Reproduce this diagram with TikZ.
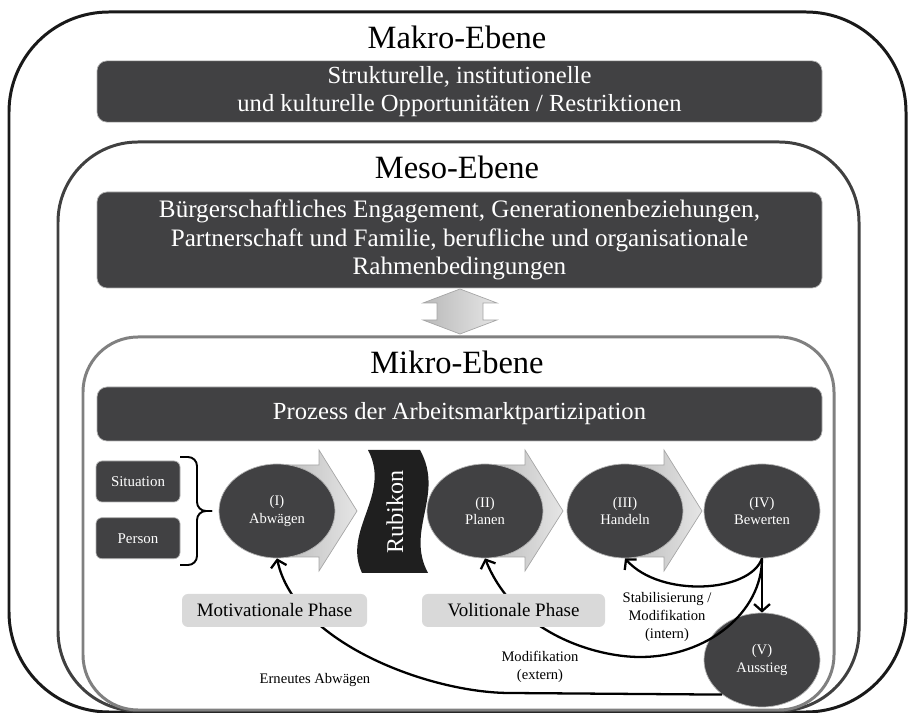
\documentclass[tikz,border=0pt]{standalone}
\usepackage{fontspec}
\setmainfont{Liberation Serif}
\usetikzlibrary{positioning, shapes.geometric, arrows.meta}
\definecolor{boxgray}{RGB}{65,65,67}
\definecolor{phasegray}{RGB}{217,217,217}

\begin{document}
\begin{tikzpicture}[
  lvl/.style={line width=1.7pt},
  ttl/.style={font=\fontsize{18.5}{22}\selectfont},
  darkbox/.style={draw=gray!60, line width=0.4pt, fill=boxgray, rounded corners=0.20cm, text=white, align=center, minimum width=14.50cm},
  factor/.style={draw=gray!60, line width=0.4pt, fill=boxgray, rounded corners=0.12cm, text=white, minimum width=1.68cm, minimum height=0.82cm, font=\fontsize{8.5}{10}\selectfont},
  stage/.style={draw=gray!60, line width=0.4pt, fill=boxgray, ellipse, inner sep=0pt, minimum width=2.32cm, minimum height=1.88cm, text=white, align=center, font=\fontsize{8.3}{10}\selectfont},
  phasebox/.style={fill=phasegray, rounded corners=0.12cm, minimum height=0.66cm, font=\fontsize{10.8}{13}\selectfont},
  blockarr/.style={draw=gray!70, line width=0.4pt, left color=gray!55, right color=gray!20},
  conn/.style={line width=1.3pt, -{Straight Barb[length=4pt, width=9pt]}},
  note/.style={align=center, font=\fontsize{8.3}{10.2}\selectfont}
]
\useasboundingbox (0,0) rectangle (18.18,14.26);

% Levels
\draw [lvl, draw=black!90, rounded corners=2.00cm] ( 0.18, 0.02) rectangle (18.12, 14.02);
\draw [lvl, draw=black!75, rounded corners=1.60cm] ( 1.16, 0.04) rectangle (17.18, 11.42);
\draw [lvl, draw=black!50, rounded corners=1.10cm] ( 1.66, 0.06) rectangle (16.68,  7.52);

% Makro level
\node (mak) [ttl] at ( 9.14, 13.52) {Makro-Ebene};
\node (makbox) [darkbox, minimum height=1.14cm, font=\fontsize{14}{15.5}\selectfont] at ( 9.19, 12.43) {Strukturelle, institutionelle\\und kulturelle Opportunitäten / Restriktionen};

% Meso level
\node (mes) [ttl] at ( 9.14, 10.92) {Meso-Ebene};
\node (mesbox) [darkbox, minimum height=1.92cm, font=\fontsize{14.3}{16.2}\selectfont] at ( 9.19, 9.46) {Bürgerschaftliches Engagement, Generationenbeziehungen,\\Partnerschaft und Familie, berufliche und organisationale\\Rahmenbedingungen};

% Exchange meso / mikro
\draw [blockarr] ( 9.20, 8.48) -- ( 9.94, 8.20) -- ( 9.66, 8.20) -- ( 9.66, 7.86) -- ( 9.94, 7.86) -- ( 9.20, 7.58)
  -- ( 8.46, 7.86) -- ( 8.74, 7.86) -- ( 8.74, 8.20) -- ( 8.46, 8.20) -- cycle;

% Mikro level
\node (mik) [ttl] at ( 9.14, 7.02) {Mikro-Ebene};
\node (mikbox) [darkbox, minimum height=1.08cm, font=\fontsize{14}{16}\selectfont] at ( 9.19, 5.98) {Prozess der Arbeitsmarktpartizipation};

% Situation and person
\node (sit) [factor] at ( 2.76, 4.63) {Situation};
\node (pers) [factor, below = 0.30cm of sit] {Person};
\draw [line width=1.1pt, rounded corners=0.18cm] ( 3.60, 5.12) -- ( 3.94, 5.12) -- ( 3.94, 4.04) -- ( 4.24, 4.04);
\draw [line width=1.1pt, rounded corners=0.18cm] ( 3.60, 2.96) -- ( 3.94, 2.96) -- ( 3.94, 4.04) -- ( 4.24, 4.04);

% Block arrows behind the stages
\foreach \xa/\xt in {5.54/7.14, 9.70/11.26, 12.50/14.04}
  \draw [blockarr] (\xa, 4.96) -- ({\xt-0.76}, 4.96) -- ({\xt-0.76}, 5.26) -- (\xt, 4.04)
    -- ({\xt-0.76}, 2.84) -- ({\xt-0.76}, 3.12) -- (\xa, 3.12) -- cycle;

% Rubikon
\fill [black!88] ( 7.36, 5.26) .. controls ( 7.84, 4.36) and ( 6.84, 3.66) .. ( 7.24, 2.80) -- ( 8.56, 2.80)
  .. controls ( 8.10, 3.66) and ( 8.90, 4.36) .. ( 8.40, 5.26) -- cycle;
\node (rub) [rotate=90, text=white, font=\fontsize{13.7}{16}\selectfont] at ( 7.90, 4.02) {Rubikon};

% Stages
\node (s1) [stage] at ( 5.54, 4.04) {(I)\\Abwägen};
\node (s2) [stage] at ( 9.70, 4.04) {(II)\\Planen};
\node (s3) [stage] at (12.50, 4.04) {(III)\\Handeln};
\node (s4) [stage] at (15.24, 4.04) {(IV)\\Bewerten};
\node (s5) [stage] at (15.24, 1.06) {(V)\\Ausstieg};

% Connections
\draw [conn] (s4) -- (s5);
\draw [conn] (s4.south) .. controls (15.00, 2.40) and (13.20, 2.30) .. (s3.south);
\draw [conn] (s4.south) .. controls (15.24, 2.01) and (14.15, 1.12) .. (12.80, 1.12)
  .. controls (11.90, 1.12) and (10.30, 1.60) .. (s2.south);
\draw [conn] (s5.221) -- (10.20, 0.40) .. controls ( 8.60, 0.40) and ( 5.90, 1.40) .. (s1.south);

% Phases
\node (mot) [phasebox, minimum width=3.70cm] at ( 5.49, 2.05) {Motivationale Phase};
\node (vol) [phasebox, minimum width=3.66cm] at (10.27, 2.05) {Volitionale Phase};

% Connector labels
\node (stab) [note] at (13.34, 1.92) {Stabilisierung /\\Modifikation\\(intern)};
\node (ext)  [note] at (10.80, 0.92) {Modifikation\\(extern)};
\node (ern)  [note] at ( 6.30, 0.66) {Erneutes Abwägen};

\end{tikzpicture}
\end{document}
